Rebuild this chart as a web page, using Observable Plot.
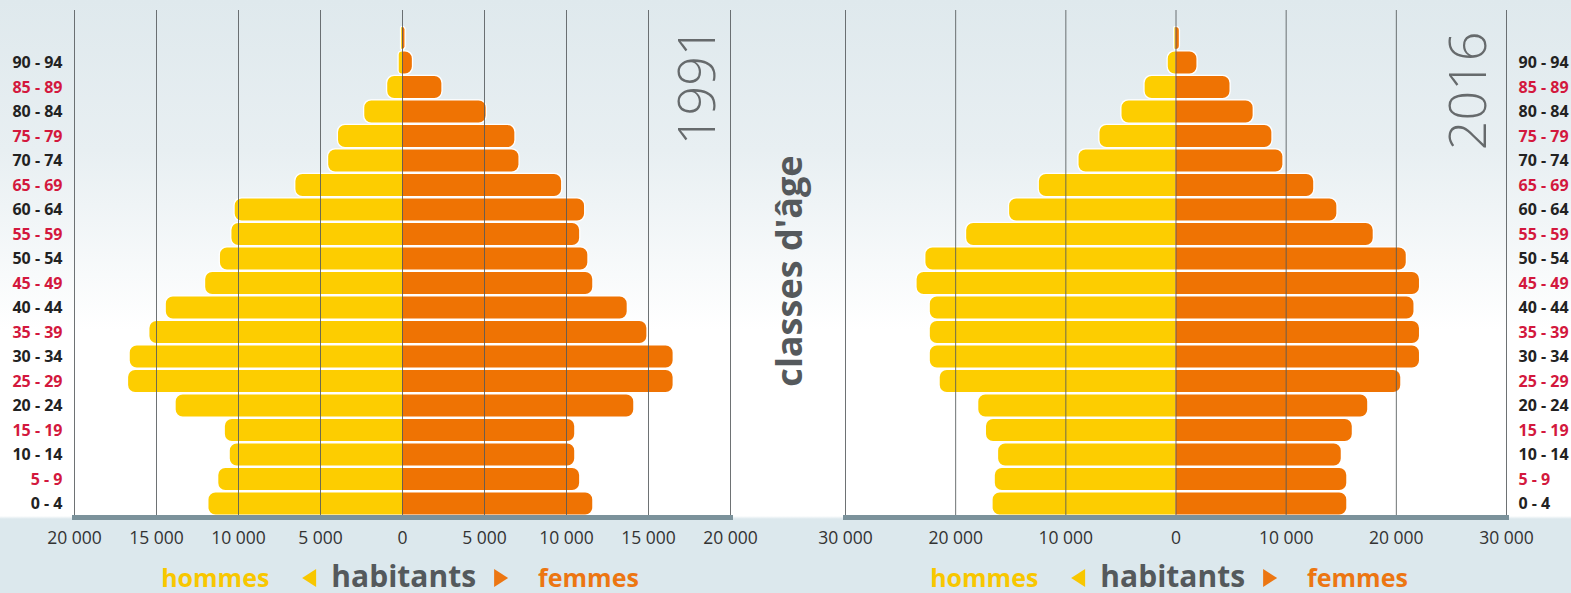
<!DOCTYPE html>
<html><head><meta charset="utf-8">
<script src="https://cdn.jsdelivr.net/npm/d3@7"></script>
<script src="https://cdn.jsdelivr.net/npm/@observablehq/plot@0.6"></script>
<style>
html,body{margin:0;padding:0;}
body{width:1571px;height:593px;overflow:hidden;position:relative;font-family:"Open Sans",sans-serif;
background:linear-gradient(to bottom,#dfe9ed 0px,#e8eff2 150px,#ffffff 330px,#ffffff 516px,#dce8ed 519px,#dce8ed 593px);}
#left{position:absolute;left:0;top:0;}
#right{position:absolute;left:760px;top:0;}
.legend{position:absolute;top:562px;transform:translateX(-50%);display:flex;align-items:baseline;white-space:nowrap;font-weight:700;line-height:28px;}
.legend .h{color:#f8c700;font-size:25px;}
.legend .f{color:#ec7612;font-size:25px;}
.legend .hab{color:#54595c;font-size:30px;}
.tri{display:inline-block;width:0;height:0;border-top:9px solid transparent;border-bottom:9px solid transparent;}
.tl{border-right:14px solid #f8c700;margin:0 15px 0 33px;}
.tr{border-left:14px solid #ec7612;margin:0 30px 0 18px;}
</style>
</head><body>
<div id="left"></div>
<div id="right"></div>
<div class="legend" style="left:400px"><span class="h">hommes</span><span class="tri tl"></span><span class="hab">habitants</span><span class="tri tr"></span><span class="f">femmes</span></div>
<div class="legend" style="left:1169px"><span class="h">hommes</span><span class="tri tl"></span><span class="hab">habitants</span><span class="tri tr"></span><span class="f">femmes</span></div>
<script>
// age classes, bottom to top
const ages = ["0 - 4","5 - 9","10 - 14","15 - 19","20 - 24","25 - 29","30 - 34","35 - 39","40 - 44","45 - 49","50 - 54","55 - 59","60 - 64","65 - 69","70 - 74","75 - 79","80 - 84","85 - 89","90 - 94","95 et +"];
const hommes1991 = [11800,11200,10500,10800,13800,16700,16600,15400,14400,12000,11100,10400,10200,6500,4500,3900,2300,900,200,50];
const femmes1991 = [11600,10800,10500,10500,14100,16500,16500,14900,13700,11600,11300,10800,11100,9700,7100,6850,5100,2400,600,150];
const hommes2016 = [16600,16400,16100,17200,17900,21400,22300,22300,22300,23500,22700,19000,15100,12400,8800,6900,4900,2800,700,100];
const femmes2016 = [15500,15500,15000,16000,17400,20400,22100,22100,21600,22100,20900,17900,14600,12500,9700,8700,7000,4900,1900,300];
const ticks1991 = [-20000,-15000,-10000,-5000,0,5000,10000,15000,20000];
const ticks2016 = [-30000,-20000,-10000,0,10000,20000,30000];
const hiddenLabel = "95 et +";

const YELLOW = "#fdcd00", ORANGE = "#ef7303";
const fmt = d => d3.format(",")(Math.abs(d)).replace(/,/g, " ");

function pyramid({hommes, femmes, ticks, year, width, marginLeft, marginRight, side, yearDx, yearDy, extra}) {
  const rows = ages.map((a, i) => ({age: a, h: -hommes[i], f: femmes[i], idx: i}));
  const labelRows = rows.filter(d => d.age !== hiddenLabel);
  const xMax = Math.max(...ticks);
  return Plot.plot({
    width, height: 552, marginTop: 10, marginBottom: 35, marginLeft, marginRight,
    style: {background: "transparent", fontFamily: "'Open Sans', sans-serif", overflow: "visible"},
    x: {domain: [-xMax, xMax]},
    y: {domain: ages.slice().reverse(), range: [24.5, 517], padding: 0.1, round: false, axis: null},
    color: {type: "identity"},
    marks: [
      // white halo behind bars
      Plot.barX(rows, {x1: 0, x2: "h", y: "age", fill: "white", rx1: 8, insetTop: -1.3, insetBottom: -1.3, insetLeft: -1.3}),
      Plot.barX(rows, {x1: 0, x2: "f", y: "age", fill: "white", rx2: 8, insetTop: -1.3, insetBottom: -1.3, insetRight: -1.3}),
      // bars rounded on their outer end only
      Plot.barX(rows, {x1: 0, x2: "h", y: "age", fill: YELLOW, rx1: 7}),
      Plot.barX(rows, {x1: 0, x2: "f", y: "age", fill: ORANGE, rx2: 7}),
      // grid on top
      Plot.ruleX(ticks, {stroke: "#55595c", strokeWidth: 1, strokeOpacity: 0.85}),
      Plot.frame({anchor: "bottom", stroke: "#7b929b", strokeWidth: 5}),
      Plot.axisX(ticks, {tickSize: 0, tickPadding: 14, fontSize: 17.5, color: "#333", tickFormat: fmt, label: null}),
      Plot.text(labelRows, {
        y: "age", text: "age",
        frameAnchor: side === "left" ? "left" : "right",
        dx: side === "left" ? -12 : 12,
        textAnchor: side === "left" ? "end" : "start",
        fill: d => d.idx % 2 ? "#d3183d" : "#222222",
        fontWeight: 700, fontSize: 16
      }),
      Plot.text([year], {frameAnchor: "top-right", dx: yearDx, dy: yearDy, rotate: -90, textAnchor: "end", lineAnchor: "middle", fontSize: 52, fontWeight: 300, fill: "#666a6c"}),
      ...(extra || [])
    ]
  });
}

document.getElementById("left").append(pyramid({
  hommes: hommes1991, femmes: femmes1991, ticks: ticks1991, year: "1991",
  width: 760, marginLeft: 74, marginRight: 30, side: "left", yearDx: -32, yearDy: 16
}));
document.getElementById("right").append(pyramid({
  hommes: hommes2016, femmes: femmes2016, ticks: ticks2016, year: "2016",
  width: 811, marginLeft: 85, marginRight: 65, side: "right", yearDx: -37, yearDy: 21,
  extra: [Plot.text(["classes d'âge"], {frameAnchor: "left", dx: -55, dy: 7, rotate: -90, textAnchor: "middle", lineAnchor: "middle", fontSize: 36, fontWeight: 700, fill: "#55595c"})]
}));
</script>
</body></html>
